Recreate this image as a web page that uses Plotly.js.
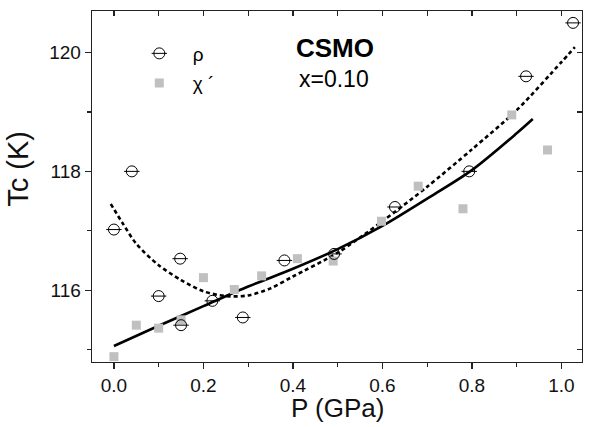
<!DOCTYPE html>
<html><head><meta charset="utf-8">
<script src="https://cdn.plot.ly/plotly-3.0.1.min.js"></script>
<style>html,body{margin:0;padding:0;background:#fff}#chart{width:595px;height:427px}</style>
</head><body><div id="chart"></div>
<script>
// rho (resistivity) Tc vs pressure
const rhoP  = [0.0, 0.04, 0.10, 0.148, 0.15, 0.22, 0.288, 0.381, 0.492, 0.628, 0.794, 0.921, 1.026];
const rhoTc = [117.02, 118.0, 115.90, 116.53, 115.41, 115.82, 115.54, 116.50, 116.61, 117.40, 118.0, 119.60, 120.50];
// chi' (ac susceptibility) Tc vs pressure
const chiP  = [0.0, 0.05, 0.10, 0.15, 0.20, 0.269, 0.33, 0.41, 0.49, 0.598, 0.68, 0.78, 0.889, 0.969];
const chiTc = [114.88, 115.41, 115.36, 115.50, 116.21, 116.01, 116.24, 116.53, 116.49, 117.16, 117.75, 117.37, 118.95, 118.36];
// solid fit curve
const fitSolidP  = [0, 0.1, 0.2, 0.3, 0.4, 0.5, 0.6, 0.7, 0.8, 0.9, 0.936];
const fitSolidTc = [115.06, 115.40, 115.73, 116.06, 116.36, 116.69, 117.08, 117.54, 118.02, 118.64, 118.88];
// dashed fit curve
const fitDashP  = [-0.007, 0.02, 0.05, 0.1, 0.15, 0.2, 0.25, 0.3, 0.35, 0.4, 0.5, 0.6, 0.7, 0.8, 0.9, 1.0, 1.03];
const fitDashTc = [117.45, 117.12, 116.78, 116.42, 116.17, 115.98, 115.90, 115.91, 116.03, 116.23, 116.63, 117.16, 117.74, 118.37, 119.03, 119.84, 120.09];
// text
const xTitle = 'P (GPa)';
const yTitle = 'Tc (K)';
const label1 = 'CSMO';
const label2 = 'x=0.10';
const rhoName = 'ρ';
const chiName = 'χ ´';
const xTicks = [0, 0.2, 0.4, 0.6, 0.8, 1.0];
const xTickText = ['0.0', '0.2', '0.4', '0.6', '0.8', '1.0'];
const yTicks = [116, 118, 120];

const FONT = 'Liberation Sans, Arial, sans-serif';
const XR = [-0.049, 1.046], YR = [114.79, 120.70];

const traces = [
  {x: fitSolidP, y: fitSolidTc, mode: 'lines', line: {color: '#000', width: 2.6, shape: 'spline', smoothing: 0.8}, showlegend: false, hoverinfo: 'skip'},
  {x: fitDashP, y: fitDashTc, mode: 'lines', line: {color: '#000', width: 2.6, dash: '4px,3px', shape: 'spline', smoothing: 0.8}, showlegend: false, hoverinfo: 'skip'},
  {x: chiP, y: chiTc, mode: 'markers', name: chiName, legendgroup: 'b', legendrank: 2,
   marker: {symbol: 'square', size: 9, color: '#c0c0c0'}},
  {x: rhoP, y: rhoTc, mode: 'markers', name: rhoName, legendgroup: 'a', legendrank: 1,
   marker: {symbol: 'circle-open', size: 11, color: '#000', line: {width: 1, color: '#000'}}},
  {x: rhoP, y: rhoTc, mode: 'markers', name: rhoName, legend: 'legend2',
   marker: {symbol: 'line-ew-open', size: 11, color: '#000', line: {width: 1, color: '#000'}}},
  // invisible carriers for the mirrored (top/right) tick axes
  {x: rhoP, y: rhoTc, xaxis: 'x2', yaxis: 'y2', mode: 'markers', marker: {opacity: 0}, showlegend: false, hoverinfo: 'skip'}
];

const legendCommon = {
  x: 0.069, y: 0.933, xanchor: 'left', yanchor: 'top',
  bgcolor: 'rgba(0,0,0,0)', borderwidth: 0,
  itemwidth: 57, tracegroupgap: 2, traceorder: 'grouped',
  font: {family: FONT, size: 19, color: '#000'}
};

const layout = {
  width: 595, height: 427,
  margin: {l: 92, r: 13, t: 11, b: 65},
  paper_bgcolor: '#fff', plot_bgcolor: '#fff',
  font: {family: FONT, color: '#000'},
  showlegend: true,
  legend: Object.assign({}, legendCommon),
  legend2: Object.assign({}, legendCommon, {font: {family: FONT, size: 19, color: 'rgba(0,0,0,0)'}}),
  xaxis: {
    range: XR, showgrid: false, zeroline: false,
    showline: true, linecolor: '#222', linewidth: 1.3, mirror: true,
    ticks: 'outside', ticklen: 6, tickwidth: 1.2, tickcolor: '#222',
    tickvals: xTicks, ticktext: xTickText,
    tickfont: {family: FONT, size: 19, color: '#111'},
    minor: {dtick: 0.1, tick0: 0, ticks: 'outside', ticklen: 4, tickwidth: 1.2, tickcolor: '#222'}
  },
  yaxis: {
    range: YR, showgrid: false, zeroline: false,
    showline: true, linecolor: '#222', linewidth: 1.3, mirror: true,
    ticks: 'outside', ticklen: 6, tickwidth: 1.2, tickcolor: '#222',
    tickvals: yTicks,
    tickfont: {family: FONT, size: 19, color: '#111'},
    minor: {dtick: 1, tick0: 0, ticks: 'outside', ticklen: 3.5, tickwidth: 1.2, tickcolor: '#222'}
  },
  xaxis2: {
    range: XR, overlaying: 'x', side: 'top', anchor: 'y2', showgrid: false, zeroline: false,
    showticklabels: false, ticks: 'inside', ticklen: 5, tickwidth: 1.2, tickcolor: '#222',
    dtick: 0.1, tick0: 0
  },
  yaxis2: {
    range: YR, overlaying: 'y', side: 'right', anchor: 'x2', showgrid: false, zeroline: false,
    showticklabels: false, ticks: 'inside', ticklen: 5, tickwidth: 1.2, tickcolor: '#222',
    dtick: 1, tick0: 0
  },
  annotations: [
    {text: '<b>' + label1 + '</b>', x: 0.494, y: 120.07, xref: 'x', yref: 'y', showarrow: false,
     xanchor: 'center', yanchor: 'middle', font: {family: FONT, size: 26, color: '#000'}},
    {text: label2, x: 0.41, y: 119.55, xref: 'x', yref: 'y', showarrow: false, xanchor: 'left', yanchor: 'middle',
     font: {family: FONT, size: 23, color: '#000'}},
    {text: yTitle, x: -0.15, y: 0.549, xref: 'paper', yref: 'paper', showarrow: false, textangle: -90,
     xanchor: 'center', yanchor: 'middle', font: {family: FONT, size: 29, color: '#111'}},
    {text: xTitle, x: 0.5, y: -0.18, xref: 'paper', yref: 'paper', showarrow: false,
     xanchor: 'center', yanchor: 'bottom', font: {family: FONT, size: 26, color: '#111'}}
  ]
};

Plotly.newPlot('chart', traces, layout, {displayModeBar: false, staticPlot: true});
</script>
</body></html>
